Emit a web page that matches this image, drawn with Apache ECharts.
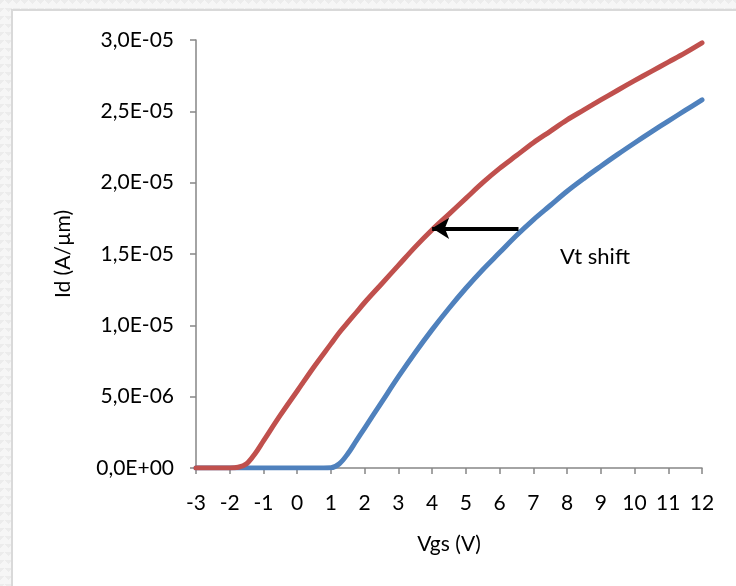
<!DOCTYPE html>
<html>
<head>
<meta charset="utf-8">
<script src="https://cdn.jsdelivr.net/npm/echarts@6/dist/echarts.min.js"></script>
<style>
  html, body { margin: 0; padding: 0; }
  body {
    width: 736px; height: 586px; overflow: hidden;
    background-color: #f6f6f6;
    background-image:
      linear-gradient(135deg, #ececec 25%, transparent 25%),
      linear-gradient(225deg, #ececec 25%, transparent 25%);
    background-size: 8px 8px;
    position: relative;
  }
  #frame {
    position: absolute; left: 11px; top: 9px; width: 740px; height: 600px;
    background: #ffffff; border: 2px solid #d9d9d9; box-sizing: border-box;
  }
  #chart { position: absolute; left: 0; top: 0; width: 736px; height: 586px; }
</style>
</head>
<body>
<div id="frame"></div>
<div id="chart"></div>
<script>
// Gate voltage sweep, V
const vgs = [-3, -2.5, -2, -1.75, -1.5, -1.25, -1, -0.5, 0, 0.5, 1, 1.25, 1.5, 1.75, 2, 2.5, 3, 3.5, 4, 4.5, 5, 5.5, 6, 6.5, 7, 7.5, 8, 8.5, 9, 9.5, 10, 10.5, 11, 11.5, 12];

// Drain current after the shift (red), A/um
const idShifted = [0, 0, 0, 0.00000005, 0.0000003, 0.000001, 0.0000019, 0.0000037, 0.0000054, 0.0000071, 0.0000087, 0.0000095, 0.0000102, 0.0000109, 0.0000116, 0.0000129, 0.0000142, 0.0000155, 0.0000167, 0.0000178, 0.0000189, 0.00002, 0.000021, 0.0000219, 0.0000228, 0.0000236, 0.0000244, 0.0000251, 0.0000258, 0.00002648, 0.00002715, 0.0000278, 0.00002845, 0.0000291, 0.0000298];

// Drain current of the reference device (blue), A/um
const idReference = [0, 0, 0, 0, 0, 0, 0, 0, 0, 0, 0.00000002, 0.0000003, 0.000001, 0.0000019, 0.0000028, 0.0000046, 0.0000064, 0.0000081, 0.0000097, 0.0000112, 0.0000126, 0.0000139, 0.0000151, 0.0000163, 0.0000174, 0.0000184, 0.0000194, 0.0000203, 0.00002115, 0.00002198, 0.00002278, 0.00002356, 0.00002432, 0.00002506, 0.0000258];

// Y-axis tick labels, one per 5E-06 step
const yTickLabels = ['0,0E+00', '5,0E-06', '1,0E-05', '1,5E-05', '2,0E-05', '2,5E-05', '3,0E-05'];
const yStep = 0.000005;

// Arrow marking the threshold shift: tail and head in data units
const arrowTail = [6.56, 0.0000168];
const arrowHead = [4.0, 0.0000168];

const FONT = 'Lato, "Open Sans", sans-serif';
const TEXT = '#000000';
const AXIS = '#868686';

const chart = echarts.init(document.getElementById('chart'), null, { renderer: 'canvas' });

const pairs = (xs, ys) => xs.map((x, i) => [x, ys[i]]);

chart.setOption({
  backgroundColor: 'transparent',
  animation: false,
  grid: { left: 196, right: 34, top: 40, bottom: 118, containLabel: false },
  xAxis: {
    type: 'value',
    min: -3, max: 12, interval: 1,
    name: 'Vgs (V)',
    nameLocation: 'middle',
    nameGap: 66,
    nameTextStyle: { fontFamily: FONT, fontSize: 21, color: TEXT },
    axisLine: { onZero: false, lineStyle: { color: AXIS, width: 1.5 } },
    axisTick: { show: true, length: 6, inside: false, lineStyle: { color: AXIS, width: 1.5 } },
    axisLabel: { fontFamily: FONT, fontSize: 21, color: TEXT, margin: 25 },
    splitLine: { show: false }
  },
  yAxis: {
    type: 'value',
    min: 0, max: 0.00003, interval: yStep,
    name: 'Id (A/\u00b5m)',
    nameLocation: 'middle',
    nameGap: 122,
    nameRotate: 90,
    nameTextStyle: { fontFamily: FONT, fontSize: 21, color: TEXT },
    axisLine: { show: true, onZero: false, lineStyle: { color: AXIS, width: 1.5 } },
    axisTick: { show: true, length: 6, inside: false, lineStyle: { color: AXIS, width: 1.5 } },
    axisLabel: {
      fontFamily: FONT, fontSize: 21, color: TEXT, margin: 22,
      formatter: v => yTickLabels[Math.round(v / yStep)]
    },
    splitLine: { show: false }
  },
  series: [
    {
      name: 'reference',
      type: 'line',
      data: pairs(vgs, idReference),
      showSymbol: false,
      smooth: 0.35,
      lineStyle: { color: '#4F81BD', width: 5, cap: 'round', join: 'round' },
      itemStyle: { color: '#4F81BD' },
      z: 2
    },
    {
      name: 'shifted',
      type: 'line',
      data: pairs(vgs, idShifted),
      showSymbol: false,
      smooth: 0.35,
      lineStyle: { color: '#C0504D', width: 5, cap: 'round', join: 'round' },
      itemStyle: { color: '#C0504D' },
      z: 3,
      markLine: {
        silent: true,
        symbol: ['none', 'arrow'],
        symbolSize: [16, 17],
        label: { show: false },
        lineStyle: { color: '#000000', width: 4, type: 'solid' },
        data: [[{ coord: arrowTail }, { coord: arrowHead }]],
        z: 5
      }
    }
  ],
  graphic: [
    {
      type: 'text',
      left: 560, top: 246,
      style: { text: 'Vt shift', fontFamily: FONT, fontSize: 22, fill: TEXT }
    }
  ]
});
</script>
</body>
</html>
